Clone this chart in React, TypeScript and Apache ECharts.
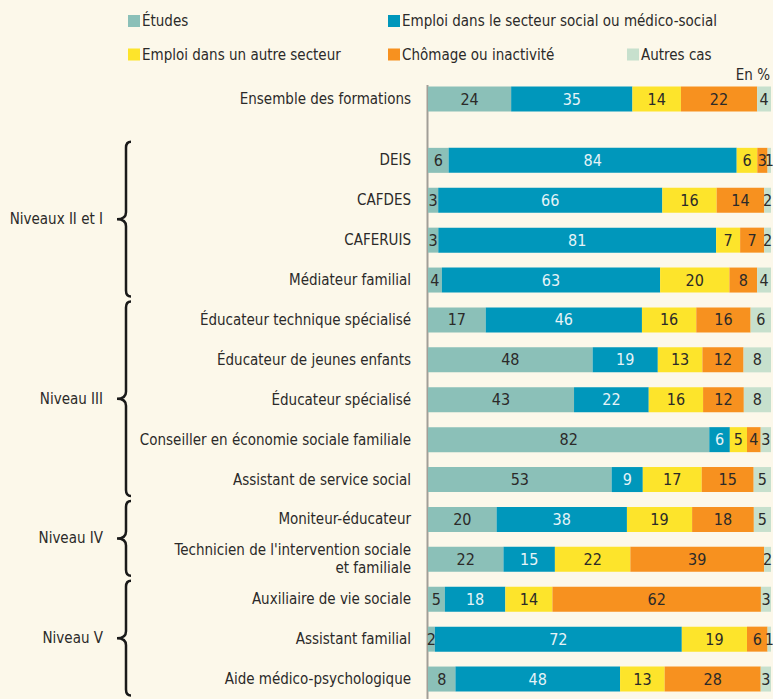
import React, { useEffect, useRef } from "react";
import * as echarts from "echarts";

const seriesNames = [
  "Études",
  "Emploi dans le secteur social ou médico-social",
  "Emploi dans un autre secteur",
  "Chômage ou inactivité",
  "Autres cas",
];

const ensembleLabel = ["Ensemble des formations"];
const ensembleValues = [24, 35, 14, 22, 4];

const categories = [
  "DEIS",
  "CAFDES",
  "CAFERUIS",
  "Médiateur familial",
  "Éducateur technique spécialisé",
  "Éducateur de jeunes enfants",
  "Éducateur spécialisé",
  "Conseiller en économie sociale familiale",
  "Assistant de service social",
  "Moniteur-éducateur",
  "Technicien de l'intervention sociale\net familiale",
  "Auxiliaire de vie sociale",
  "Assistant familial",
  "Aide médico-psychologique",
];

const etudes = [6, 3, 3, 4, 17, 48, 43, 82, 53, 20, 22, 5, 2, 8];
const emploiSocial = [84, 66, 81, 63, 46, 19, 22, 6, 9, 38, 15, 18, 72, 48];
const emploiAutre = [6, 16, 7, 20, 16, 13, 16, 5, 17, 19, 22, 14, 19, 13];
const chomage = [3, 14, 7, 8, 16, 12, 12, 4, 15, 18, 39, 62, 6, 28];
const autresCas = [1, 2, 2, 4, 6, 8, 8, 3, 5, 5, 2, 3, 1, 3];

const levels = [
  { name: "Niveaux II et I", first: 0, last: 3 },
  { name: "Niveau III", first: 4, last: 8 },
  { name: "Niveau IV", first: 9, last: 10 },
  { name: "Niveau V", first: 11, last: 13 },
];

const colors = ["#8bc0b8", "#0097bb", "#fde42b", "#f7911f", "#c7e0cd"];
const labelColors = ["#2b2a29", "#e6f3f7", "#2b2a29", "#2b2a29", "#2b2a29"];
const FONT = "'Liberation Sans Narrow', 'Arial Narrow', 'DejaVu Sans Condensed', sans-serif";
const TEXT = "#2b2a29";
const BG = "#fcf8ea";
const FS = 15;

export default function App() {
  const ref = useRef<HTMLDivElement>(null);

  useEffect(() => {
    if (!ref.current) return;
    const chart = echarts.init(ref.current, null, { renderer: "svg" });

    // rows of raw values, bars drawn as a 100 % stack of each row's total
    const ensembleRows = [ensembleValues];
    const detailRows = categories.map((_, r) => [
      etudes[r],
      emploiSocial[r],
      emploiAutre[r],
      chomage[r],
      autresCas[r],
    ]);

    const makeSeries = (i: number, rows: number[][], axisIdx: number) => ({
      name: seriesNames[i],
      type: "bar",
      stack: "s" + axisIdx,
      xAxisIndex: axisIdx,
      yAxisIndex: axisIdx,
      barWidth: 25,
      clip: false,
      data: rows.map((row) => {
        const total = row.reduce((a, b) => a + b, 0);
        return { value: (row[i] / total) * 100, raw: row[i] };
      }),
      itemStyle: { color: colors[i] },
      label: {
        show: true,
        position: "inside",
        formatter: (p: any) => String(p.data.raw),
        color: labelColors[i],
        fontSize: 16,
        fontFamily: FONT,
      },
      emphasis: { disabled: true },
    });

    const series: any[] = [];
    seriesNames.forEach((_, i) => series.push(makeSeries(i, ensembleRows, 0)));
    seriesNames.forEach((_, i) => series.push(makeSeries(i, detailRows, 1)));

    const legendBase = {
      orient: "vertical",
      padding: 0,
      itemWidth: 12,
      itemHeight: 12,
      icon: "rect",
      itemGap: 18.5,
      selectedMode: false,
      textStyle: { fontSize: FS, fontFamily: FONT, color: TEXT, lineHeight: 15, padding: [0, 0, 0, -3] },
    };

    const yAxisBase = {
      type: "category",
      inverse: true,
      axisLine: { show: false },
      axisTick: { show: false },
      axisLabel: {
        margin: 17,
        fontSize: FS,
        fontFamily: FONT,
        color: TEXT,
        lineHeight: 18,
        align: "right",
      },
    };

    chart.setOption({
      animation: false,
      backgroundColor: BG,
      textStyle: { fontFamily: FONT },
      legend: [
        { ...legendBase, left: 128, top: 13.5, data: [seriesNames[0], seriesNames[2]] },
        { ...legendBase, left: 388, top: 13.5, data: [seriesNames[1], seriesNames[3]] },
        { ...legendBase, left: 627, top: 47, data: [seriesNames[4]] },
      ],
      grid: [
        { left: 428, width: 343, top: 79, height: 40 },
        { left: 428, width: 343, top: 140.4, height: 562 },
      ],
      xAxis: [
        { type: "value", min: 0, max: 100, gridIndex: 0, show: false },
        { type: "value", min: 0, max: 100, gridIndex: 1, show: false },
      ],
      yAxis: [
        { ...yAxisBase, gridIndex: 0, data: ensembleLabel },
        { ...yAxisBase, gridIndex: 1, data: categories },
      ],
      series,
    });

    const graphics: any[] = [
      {
        type: "line",
        shape: { x1: 427.5, y1: 85, x2: 427.5, y2: 699 },
        style: { stroke: "#a19e97", lineWidth: 2 },
        silent: true,
      },
      {
        type: "text",
        x: 770,
        y: 75,
        style: {
          text: "En %",
          align: "right",
          verticalAlign: "middle",
          fontSize: FS,
          fontFamily: FONT,
          fill: TEXT,
        },
      },
    ];

    levels.forEach((lv, k) => {
      const yFirst = chart.convertToPixel({ yAxisIndex: 1 }, categories[lv.first]) as number;
      const yLast = chart.convertToPixel({ yAxisIndex: 1 }, categories[lv.last]) as number;
      const top = yFirst - 18.5;
      const bottom = yLast + 16.5;
      const mid = (top + bottom) / 2;
      const x = 126;
      const d =
        `M ${x + 5} ${top} Q ${x} ${top} ${x} ${top + 6} ` +
        `L ${x} ${mid - 7} Q ${x} ${mid} ${x - 9} ${mid} ` +
        `Q ${x} ${mid} ${x} ${mid + 7} ` +
        `L ${x} ${bottom - 6} Q ${x} ${bottom} ${x + 5} ${bottom}`;
      const shapeName = "brace" + k;
      echarts.graphic.registerShape(shapeName, echarts.graphic.extendPath(d, {}) as any);
      graphics.push({
        type: shapeName,
        x: 0,
        y: 0,
        style: { stroke: "#1a1a1a", lineWidth: 2.5, fill: null },
        silent: true,
      });
      graphics.push({
        type: "text",
        x: 103,
        y: mid,
        style: {
          text: lv.name,
          align: "right",
          verticalAlign: "middle",
          fontSize: FS,
          fontFamily: FONT,
          fill: TEXT,
        },
      });
    });

    chart.setOption({ graphic: graphics });

    return () => chart.dispose();
  }, []);

  return (
    <div
      ref={ref}
      style={{ position: "absolute", left: 0, top: 0, width: 773, height: 699, background: BG }}
    />
  );
}
